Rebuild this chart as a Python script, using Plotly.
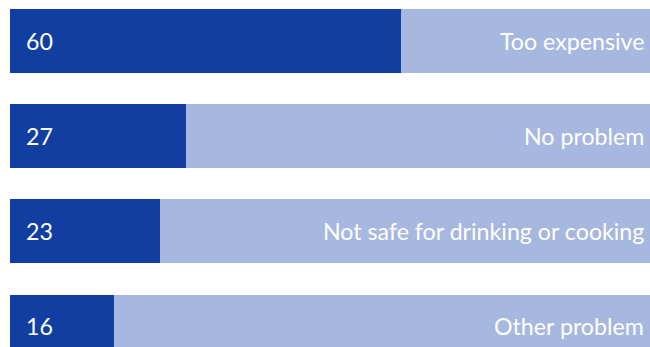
import plotly.graph_objects as go

categories = ["Too expensive", "No problem", "Not safe for drinking or cooking", "Other problem"]
values = [60, 27, 23, 16]
total = 100
remainder = [total - v for v in values]

DARK = "#123EA1"
LIGHT = "#A6B8DF"
FONT = "Lato"
FS = 23.2

W, H = 650, 347

fig = go.Figure()
fig.add_trace(go.Bar(y=categories, x=values, orientation="h", marker=dict(color=DARK, line=dict(width=0)),
                     width=0.667, hoverinfo="skip"))
fig.add_trace(go.Bar(y=categories, x=remainder, orientation="h", marker=dict(color=LIGHT, line=dict(width=0)),
                     width=0.667, hoverinfo="skip"))

ann = []
for c, v in zip(categories, values):
    ann.append(dict(x=24 / W, xref="paper", y=c, yref="y", text=str(v), showarrow=False,
                    xanchor="left", yanchor="middle", font=dict(family=FONT, size=FS, color="white")))
    ann.append(dict(x=646 / W, xref="paper", y=c, yref="y", text=c, showarrow=False,
                    xanchor="right", yanchor="middle", font=dict(family=FONT, size=FS, color="white")))

fig.update_layout(
    barmode="stack",
    width=W, height=H,
    margin=dict(l=0, r=0, t=0, b=0),
    paper_bgcolor="white", plot_bgcolor="white",
    showlegend=False,
    xaxis=dict(range=[-1.456, 98.16], visible=False, fixedrange=True),
    yaxis=dict(type="category", categoryorder="array", categoryarray=categories,
               range=[3.219, -0.433], visible=False, fixedrange=True),
    annotations=ann,
)
fig.write_html("out.html", config={"displayModeBar": False},
               post_script="document.body.style.margin='0';document.body.style.overflow='hidden';")
